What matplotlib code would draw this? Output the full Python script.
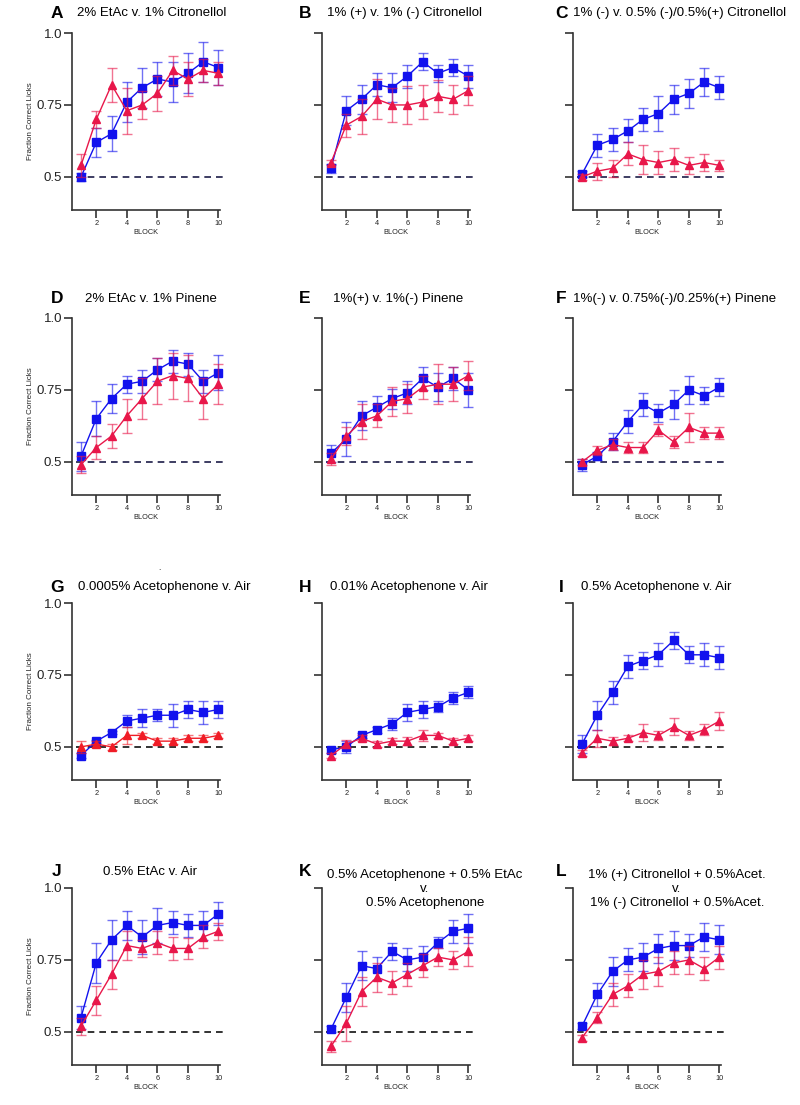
import numpy as np
import matplotlib
matplotlib.use("Agg")
import matplotlib.pyplot as plt

plt.rcParams['font.family'] = ['Liberation Sans', 'DejaVu Sans']

blocks = np.arange(1, 11)
letters = ["A", "B", "C", "D", "E", "F", "G", "H", "I", "J", "K", "L"]
titles = ["2% EtAc v. 1% Citronellol",
          "1% (+) v. 1% (-) Citronellol",
          "1% (-) v. 0.5% (-)/0.5%(+) Citronellol",
          "2% EtAc v. 1% Pinene",
          "1%(+) v. 1%(-) Pinene",
          "1%(-) v. 0.75%(-)/0.25%(+) Pinene",
          "0.0005% Acetophenone v. Air",
          "0.01% Acetophenone v. Air",
          "0.5% Acetophenone v. Air",
          "0.5% EtAc v. Air",
          "0.5% Acetophenone + 0.5% EtAc\nv.\n0.5% Acetophenone",
          "1% (+) Citronellol + 0.5%Acet.\nv.\n1% (-) Citronellol + 0.5%Acet."]
ytick_vals = [0.5, 0.75, 1.0]
ytick_labels = ["0.5", "0.75", "1.0"]
xtick_vals = [2, 4, 6, 8, 10]

# squares (blue) and triangles (red): mean and error per block
blue_a = [0.50, 0.62, 0.65, 0.76, 0.81, 0.84, 0.83, 0.86, 0.90, 0.88]
blue_a_err = [0.015, 0.05, 0.06, 0.07, 0.07, 0.06, 0.07, 0.07, 0.07, 0.06]
red_a = [0.54, 0.70, 0.82, 0.73, 0.75, 0.79, 0.87, 0.84, 0.87, 0.86]
red_a_err = [0.04, 0.03, 0.06, 0.08, 0.05, 0.06, 0.05, 0.06, 0.04, 0.04]

blue_b = [0.53, 0.73, 0.77, 0.82, 0.81, 0.85, 0.90, 0.86, 0.88, 0.85]
blue_b_err = [0.015, 0.05, 0.05, 0.04, 0.05, 0.04, 0.03, 0.03, 0.03, 0.04]
red_b = [0.55, 0.68, 0.71, 0.77, 0.75, 0.75, 0.76, 0.78, 0.77, 0.80]
red_b_err = [0.01, 0.04, 0.06, 0.07, 0.06, 0.065, 0.06, 0.055, 0.05, 0.05]

blue_c = [0.51, 0.61, 0.63, 0.66, 0.70, 0.72, 0.77, 0.79, 0.83, 0.81]
blue_c_err = [0.01, 0.04, 0.04, 0.04, 0.04, 0.06, 0.05, 0.05, 0.05, 0.04]
red_c = [0.50, 0.52, 0.53, 0.58, 0.56, 0.55, 0.56, 0.54, 0.55, 0.54]
red_c_err = [0.01, 0.03, 0.03, 0.04, 0.05, 0.04, 0.04, 0.03, 0.03, 0.02]

blue_d = [0.52, 0.65, 0.72, 0.77, 0.78, 0.82, 0.85, 0.84, 0.78, 0.81]
blue_d_err = [0.05, 0.06, 0.05, 0.03, 0.04, 0.04, 0.04, 0.04, 0.04, 0.06]
red_d = [0.49, 0.55, 0.59, 0.66, 0.72, 0.78, 0.80, 0.79, 0.72, 0.77]
red_d_err = [0.03, 0.04, 0.04, 0.06, 0.07, 0.08, 0.08, 0.08, 0.07, 0.07]

blue_e = [0.53, 0.58, 0.66, 0.69, 0.72, 0.74, 0.79, 0.76, 0.79, 0.75]
blue_e_err = [0.03, 0.06, 0.05, 0.04, 0.035, 0.04, 0.04, 0.05, 0.04, 0.06]
red_e = [0.51, 0.59, 0.64, 0.66, 0.71, 0.72, 0.76, 0.77, 0.77, 0.80]
red_e_err = [0.02, 0.03, 0.06, 0.04, 0.05, 0.05, 0.04, 0.07, 0.06, 0.05]

blue_f = [0.49, 0.52, 0.57, 0.64, 0.70, 0.67, 0.70, 0.75, 0.73, 0.76]
blue_f_err = [0.02, 0.015, 0.03, 0.04, 0.04, 0.03, 0.05, 0.05, 0.03, 0.03]
red_f = [0.50, 0.54, 0.56, 0.55, 0.55, 0.61, 0.57, 0.62, 0.60, 0.60]
red_f_err = [0.01, 0.015, 0.02, 0.02, 0.02, 0.02, 0.02, 0.05, 0.02, 0.02]

blue_g = [0.47, 0.52, 0.55, 0.59, 0.60, 0.61, 0.61, 0.63, 0.62, 0.63]
blue_g_err = [0.01, 0.005, 0.005, 0.02, 0.03, 0.02, 0.04, 0.03, 0.04, 0.03]
red_g = [0.50, 0.51, 0.50, 0.54, 0.54, 0.52, 0.52, 0.53, 0.53, 0.54]
red_g_err = [0.02, 0.01, 0.01, 0.03, 0.01, 0.01, 0.01, 0.01, 0.01, 0.01]

blue_h = [0.49, 0.50, 0.54, 0.56, 0.58, 0.62, 0.63, 0.64, 0.67, 0.69]
blue_h_err = [0.01, 0.02, 0.01, 0.01, 0.02, 0.03, 0.03, 0.02, 0.02, 0.02]
red_h = [0.47, 0.51, 0.53, 0.51, 0.52, 0.52, 0.54, 0.54, 0.52, 0.53]
red_h_err = [0.01, 0.015, 0.01, 0.01, 0.01, 0.015, 0.02, 0.01, 0.01, 0.01]

blue_i = [0.51, 0.61, 0.69, 0.78, 0.80, 0.82, 0.87, 0.82, 0.82, 0.81]
blue_i_err = [0.03, 0.05, 0.04, 0.04, 0.03, 0.04, 0.03, 0.03, 0.04, 0.04]
red_i = [0.48, 0.53, 0.52, 0.53, 0.55, 0.54, 0.57, 0.54, 0.56, 0.59]
red_i_err = [0.01, 0.03, 0.015, 0.01, 0.03, 0.015, 0.03, 0.015, 0.02, 0.03]

blue_j = [0.55, 0.74, 0.82, 0.87, 0.83, 0.87, 0.88, 0.87, 0.87, 0.91]
blue_j_err = [0.04, 0.07, 0.07, 0.05, 0.06, 0.06, 0.04, 0.04, 0.05, 0.04]
red_j = [0.52, 0.61, 0.70, 0.80, 0.79, 0.81, 0.79, 0.79, 0.83, 0.85]
red_j_err = [0.03, 0.05, 0.05, 0.05, 0.03, 0.04, 0.04, 0.035, 0.04, 0.03]

blue_k = [0.51, 0.62, 0.73, 0.72, 0.78, 0.75, 0.76, 0.81, 0.85, 0.86]
blue_k_err = [0.01, 0.05, 0.05, 0.04, 0.03, 0.04, 0.04, 0.02, 0.04, 0.05]
red_k = [0.45, 0.53, 0.64, 0.69, 0.67, 0.70, 0.73, 0.76, 0.75, 0.78]
red_k_err = [0.02, 0.06, 0.05, 0.05, 0.04, 0.04, 0.04, 0.03, 0.03, 0.05]

blue_l = [0.52, 0.63, 0.71, 0.75, 0.76, 0.79, 0.80, 0.80, 0.83, 0.82]
blue_l_err = [0.01, 0.04, 0.05, 0.04, 0.05, 0.05, 0.05, 0.04, 0.05, 0.05]
red_l = [0.48, 0.55, 0.63, 0.66, 0.70, 0.71, 0.74, 0.75, 0.72, 0.76]
red_l_err = [0.01, 0.02, 0.04, 0.04, 0.05, 0.05, 0.04, 0.05, 0.04, 0.04]

blues = [blue_a, blue_b, blue_c, blue_d, blue_e, blue_f,
         blue_g, blue_h, blue_i, blue_j, blue_k, blue_l]
blue_errs = [blue_a_err, blue_b_err, blue_c_err, blue_d_err, blue_e_err, blue_f_err,
             blue_g_err, blue_h_err, blue_i_err, blue_j_err, blue_k_err, blue_l_err]
reds = [red_a, red_b, red_c, red_d, red_e, red_f,
        red_g, red_h, red_i, red_j, red_k, red_l]
red_errs = [red_a_err, red_b_err, red_c_err, red_d_err, red_e_err, red_f_err,
            red_g_err, red_h_err, red_i_err, red_j_err, red_k_err, red_l_err]

W, H = 800, 1105
BLUE = "#1212ee"
RED = "#e8174a"
AXC = "#333333"

fig = plt.figure(figsize=(W / 100, H / 100), dpi=100)

col_left = [72, 322, 573]
row_top = [33, 318, 603, 888]
ax_w, ax_h = 148, 177
letter_x = [57, 305, 561]
letter_y = [13, 299, 587, 872]
title_x = [[77, 327, 573], [85, 333, 573], [78, 330, 581], [103, 425, 677]]


def px(x, y):
    return x / W, 1 - y / H


for i in range(12):
    r, c = divmod(i, 3)
    l, b = px(col_left[c], row_top[r] + ax_h)
    ax = fig.add_axes([l, b, ax_w / W, ax_h / H])

    ax.hlines(0.5, 0.7, 10.3, colors="#1c1c48" if r < 2 else "#111111",
              linestyles=(0, (4, 3)), lw=1.2, zorder=1, clip_on=False)
    ax.errorbar(blocks, blues[i], yerr=blue_errs[i], color=BLUE, marker="s",
                ms=5.3, lw=1.0, elinewidth=1.0, capsize=3.5, capthick=1.0,
                ecolor=(0.07, 0.07, 0.93, 0.6), clip_on=False, zorder=3)
    red_col = "#f01c26" if i == 6 else RED
    ax.errorbar(blocks, reds[i], yerr=red_errs[i], color=red_col, marker="^",
                ms=5.3, lw=1.0, elinewidth=1.0, capsize=3.5, capthick=1.0,
                ecolor=matplotlib.colors.to_rgba(red_col, 0.6),
                clip_on=False, zorder=4)

    ax.set_xlim(0.41, 10.1)
    ax.set_ylim(0.385, 1.0)
    for s in ["top", "right"]:
        ax.spines[s].set_visible(False)
    for s in ["left", "bottom"]:
        ax.spines[s].set_color(AXC)
        ax.spines[s].set_linewidth(1.2)
    ax.set_xticks(xtick_vals)
    ax.set_xticklabels([str(v) for v in xtick_vals], fontsize=5.3)
    ax.set_yticks(ytick_vals)
    ax.tick_params(axis="both", colors=AXC, width=1.2, length=6, pad=1)
    ax.tick_params(axis="x", labelcolor="#222222")
    ax.set_xlabel("BLOCK", fontsize=5.3, labelpad=1.5, color="#222222")
    if c == 0:
        ax.set_yticklabels(ytick_labels, fontsize=9.5, color="#222222")
        ax.set_ylabel("Fraction Correct Licks", fontsize=5.8, labelpad=2,
                      color="#222222")
    else:
        ax.set_yticklabels([])

    lx, ly = px(letter_x[c], letter_y[r])
    fig.text(lx, ly, letters[i], fontsize=12.5, fontweight="bold",
             ha="center", va="center")
    tx, ty = px(title_x[r][c], letter_y[r])
    if "\n" in titles[i]:
        tx, ty = px(title_x[r][c], letter_y[r] + 17)
        fig.text(tx, ty, titles[i], fontsize=9.5, ha="center", va="center",
                 multialignment="center", linespacing=1.25)
    else:
        fig.text(tx, ty, titles[i], fontsize=9.5, ha="left", va="center")

# stray dot above panel G
dx, dy = px(159, 568)
fig.text(dx, dy, ".", fontsize=6, ha="center", va="center")

fig.savefig("out.png", dpi=100)
